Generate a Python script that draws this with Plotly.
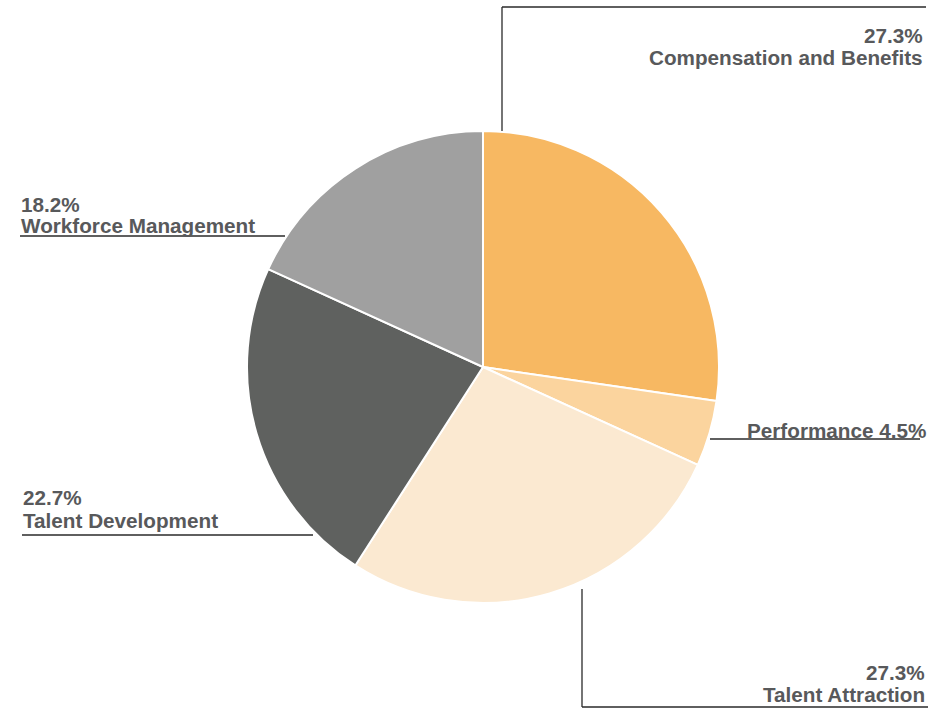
import plotly.graph_objects as go

W, H = 946, 710

categories = ["Compensation and Benefits", "Performance", "Talent Attraction",
              "Talent Development", "Workforce Management"]
values = [27.3, 4.5, 27.3, 22.7, 18.2]
colors = ["#F7B862", "#FBD49E", "#FBE9D1", "#5F615F", "#A0A0A0"]

# pie placement in pixels (center + radius)
cx, cy, r = 483, 367, 236


def px(x):
    return x / W


def py(y):
    return 1 - y / H


fig = go.Figure(go.Pie(
    labels=categories,
    values=values,
    sort=False,
    direction="clockwise",
    rotation=0,
    marker=dict(colors=colors, line=dict(color="white", width=2)),
    textinfo="none",
    hoverinfo="label+percent",
    showlegend=False,
    domain=dict(x=[px(cx - r), px(cx + r)], y=[py(cy + r), py(cy - r)]),
))

# leader lines (pixel paths)
leaders = [
    [(502, 131), (502, 7), (926, 7)],
    [(710, 439), (920, 439)],
    [(582, 589), (582, 707), (928, 707)],
    [(22, 535), (313, 535)],
    [(20, 236), (285, 236)],
]
for path in leaders:
    for (x0, y0), (x1, y1) in zip(path[:-1], path[1:]):
        fig.add_shape(type="line", xref="paper", yref="paper",
                      x0=px(x0), y0=py(y0), x1=px(x1), y1=py(y1),
                      line=dict(color="#2a2a2a", width=1.3))

font = dict(family="Liberation Sans, Arial, sans-serif", size=20.7, color="#58595B")

# label text lines: (text, x, y, anchor)
labels = [
    (f"{values[0]}%", 925, 35, "right"),
    (categories[0], 925, 57, "right"),
    (f"{categories[1]} {values[1]}%", 928, 430, "right"),
    (f"{values[2]}%", 927, 672, "right"),
    (categories[2], 927, 694, "right"),
    (f"{values[3]}%", 21, 498, "left"),
    (categories[3], 21, 520, "left"),
    (f"{values[4]}%", 19, 204, "left"),
    (categories[4], 19, 225, "left"),
]
for text, x, y, anchor in labels:
    fig.add_annotation(text=f"<b>{text}</b>", xref="paper", yref="paper",
                       x=px(x), y=py(y), xanchor=anchor, yanchor="middle",
                       align=anchor, showarrow=False, font=font)

fig.update_layout(
    width=W, height=H,
    margin=dict(l=0, r=0, t=0, b=0),
    paper_bgcolor="white",
    plot_bgcolor="white",
)

fig.write_html("out.html", config={"displayModeBar": False},
               post_script="document.body.style.margin='0';document.body.style.overflow='hidden';")
